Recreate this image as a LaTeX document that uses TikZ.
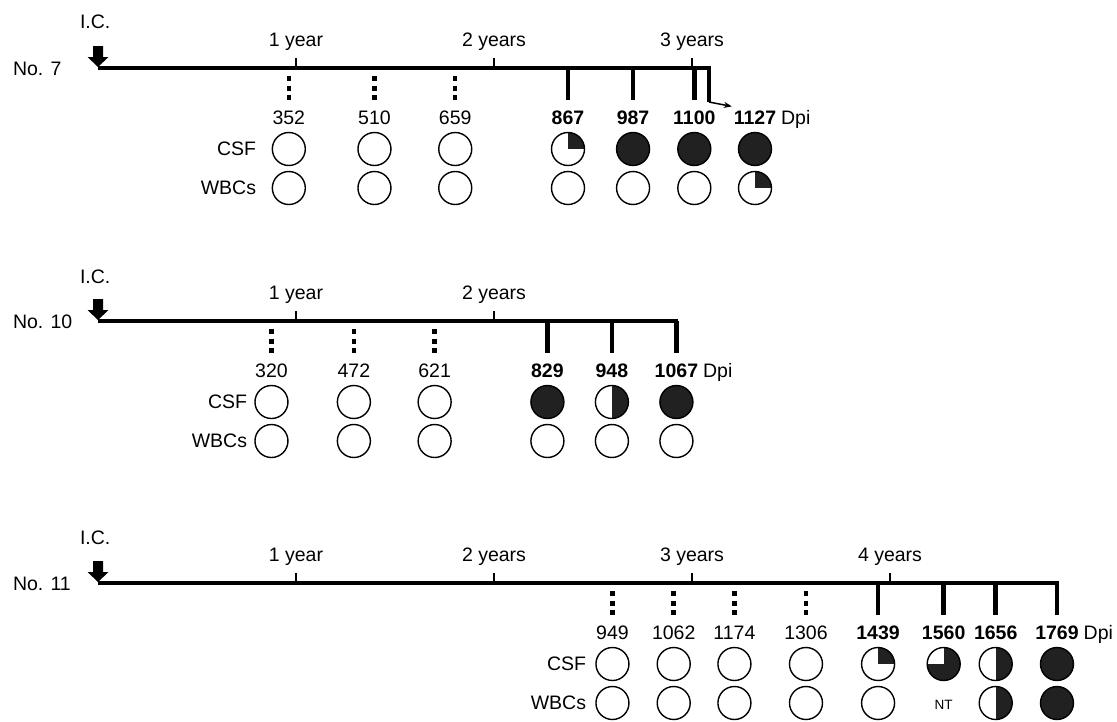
\documentclass[tikz,border=0pt]{standalone}
\usepackage{fontspec}
\setmainfont{Liberation Sans}
\usetikzlibrary{arrows.meta}
\definecolor{dk}{gray}{0.13}
\begin{document}
\begin{tikzpicture}[x=1pt,y=-1pt,
  every node/.style={inner sep=0pt,outer sep=0pt},
  txt/.style={font=\fontsize{19.5}{22}\selectfont},
  btxt/.style={font=\fontsize{19.5}{22}\selectfont\bfseries},
  smtxt/.style={font=\fontsize{13.5}{15}\selectfont},
  tline/.style={line width=4pt},
  ytick/.style={line width=2.5pt},
  solidln/.style={line width=4.5pt},
  dotln/.style={line width=4.5pt,dash pattern=on 5pt off 4.5pt},
  ring/.style={circle,draw,line width=1.4pt,minimum size=33pt},
  pieE/.style={ring},
  pieF/.style={ring,fill=dk},
  pieQ/.style={ring,path picture={\fill[dk] (path picture bounding box.center) rectangle ++(20,-20);}},
  pieH/.style={ring,path picture={\fill[dk] (path picture bounding box.center) ++(0,-20) rectangle ++(20,40);}},
  pieT/.style={ring,fill=dk,path picture={\fill[white] (path picture bounding box.center) rectangle ++(-20,-20);}},
  pieN/.style={circle,minimum size=33pt},
  icarrow/.style={fill=black}
]
\useasboundingbox (0,0) rectangle (1117,721);

% ---------------- Panel 1: No. 7
\def\T{68}
\node[txt,anchor=west] (n7) at (13,\T+1) {No. 7};
\node[txt,anchor=west] (ic1) at (80,\T-46) {I.C.};
\fill[icarrow] (98,\T-1) -- (87.5,\T-11) -- (93,\T-11) -- (93,\T-22) -- (103,\T-22) -- (103,\T-11) -- (108.5,\T-11) -- cycle;
\foreach \k/\lab in {1/1 year,2/2 years,3/3 years}{
  \coordinate (y1-\k) at ({98+198*\k},\T);
  \draw[ytick] (y1-\k) -- ++(0,-10);
  \node[txt,anchor=base] (yl1-\k) at ({98+198*\k},\T-22) {\lab};
}
\foreach \d/\ln/\o/\f/\c/\w in {352/dotln/8/txt/pieE/pieE,510/dotln/8/txt/pieE/pieE,659/dotln/8/txt/pieE/pieE,867/solidln/0/btxt/pieQ/pieE,987/solidln/0/btxt/pieF/pieE,1100/solidln/0/btxt/pieF/pieE}{
  \pgfmathsetmacro\xx{98+0.5421*\d}
  \coordinate (a1-\d) at (\xx,\T+\o);
  \coordinate (b1-\d) at (\xx,\T+32);
  \draw[\ln] (a1-\d) -- (b1-\d);
  \node[\f,anchor=base] (l1-\d) at (\xx,\T+56) {\d};
  \node[\c] (c1-\d) at (\xx,\T+81) {};
  \node[\w] (w1-\d) at (\xx,\T+120) {};
}
\node[btxt,anchor=base] (l1-1127) at (755,\T+56) {1127};
\node[pieF] (c1-1127) at (755,\T+81) {};
\node[pieQ] (w1-1127) at (755,\T+120) {};
\node[txt,anchor=base west] (dpi1) at ([xshift=5pt]l1-1127.base east) {Dpi};
\coordinate (s1) at (98,\T);
\coordinate (e1) at (708.9,\T);
\coordinate (d1) at (708.9,\T+34);
\draw[tline] (s1) -- (e1) -- (d1);
\draw[line width=1.5pt,-{Stealth[length=8pt,width=6pt]}] (d1) -- ([shift={(-2,-4)}]l1-1127.north west);
\node[txt,anchor=east] (csf1) at (256,\T+81) {CSF};
\node[txt,anchor=east] (wbc1) at (256,\T+120) {WBCs};

% ---------------- Panel 2: No. 10
\def\T{321}
\node[txt,anchor=west] (n10) at (13,\T+1) {No. 10};
\node[txt,anchor=west] (ic2) at (80,\T-44) {I.C.};
\fill[icarrow] (98,\T-1) -- (87.5,\T-11) -- (93,\T-11) -- (93,\T-22) -- (103,\T-22) -- (103,\T-11) -- (108.5,\T-11) -- cycle;
\foreach \k/\lab in {1/1 year,2/2 years}{
  \coordinate (y2-\k) at ({98+198*\k},\T);
  \draw[ytick] (y2-\k) -- ++(0,-10);
  \node[txt,anchor=base] (yl2-\k) at ({98+198*\k},\T-22) {\lab};
}
\foreach \d/\ln/\o/\f/\c/\w in {320/dotln/8/txt/pieE/pieE,472/dotln/8/txt/pieE/pieE,621/dotln/8/txt/pieE/pieE,829/solidln/0/btxt/pieF/pieE,948/solidln/0/btxt/pieH/pieE,1067/solidln/0/btxt/pieF/pieE}{
  \pgfmathsetmacro\xx{98+0.5421*\d}
  \coordinate (a2-\d) at (\xx,\T+\o);
  \coordinate (b2-\d) at (\xx,\T+32);
  \draw[\ln] (a2-\d) -- (b2-\d);
  \node[\f,anchor=base] (l2-\d) at (\xx,\T+56) {\d};
  \node[\c] (c2-\d) at (\xx,\T+81) {};
  \node[\w] (w2-\d) at (\xx,\T+120) {};
}
\node[txt,anchor=base west] (dpi2) at ([xshift=5pt]l2-1067.base east) {Dpi};
\coordinate (s2) at (98,\T);
\draw[tline] (s2) -- (a2-1067) -- (b2-1067);
\node[txt,anchor=east] (csf2) at (247,\T+81) {CSF};
\node[txt,anchor=east] (wbc2) at (247,\T+120) {WBCs};

% ---------------- Panel 3: No. 11
\def\T{583}
\node[txt,anchor=west] (n11) at (13,\T+1) {No. 11};
\node[txt,anchor=west] (ic3) at (80,\T-45) {I.C.};
\fill[icarrow] (98,\T-1) -- (87.5,\T-11) -- (93,\T-11) -- (93,\T-22) -- (103,\T-22) -- (103,\T-11) -- (108.5,\T-11) -- cycle;
\foreach \k/\lab in {1/1 year,2/2 years,3/3 years,4/4 years}{
  \coordinate (y3-\k) at ({98+198*\k},\T);
  \draw[ytick] (y3-\k) -- ++(0,-10);
  \node[txt,anchor=base] (yl3-\k) at ({98+198*\k},\T-22) {\lab};
}
\foreach \d/\ln/\o/\f/\c/\w in {949/dotln/8/txt/pieE/pieE,1062/dotln/8/txt/pieE/pieE,1174/dotln/8/txt/pieE/pieE,1306/dotln/8/txt/pieE/pieE,1439/solidln/0/btxt/pieQ/pieE,1560/solidln/0/btxt/pieT/pieN,1656/solidln/0/btxt/pieH/pieH,1769/solidln/0/btxt/pieF/pieF}{
  \pgfmathsetmacro\xx{98+0.5421*\d}
  \coordinate (a3-\d) at (\xx,\T+\o);
  \coordinate (b3-\d) at (\xx,\T+32);
  \draw[\ln] (a3-\d) -- (b3-\d);
  \node[\f,anchor=base] (l3-\d) at (\xx,\T+56) {\d};
  \node[\c] (c3-\d) at (\xx,\T+81) {};
  \node[\w] (w3-\d) at (\xx,\T+120) {};
}
\node[smtxt] (nt) at ([yshift=-2pt]w3-1560.center) {NT};
\node[txt,anchor=base west] (dpi3) at ([xshift=5pt]l3-1769.base east) {Dpi};
\coordinate (s3) at (98,\T);
\draw[tline] (s3) -- (a3-1769) -- (b3-1769);
\node[txt,anchor=east] (csf3) at (586,\T+81) {CSF};
\node[txt,anchor=east] (wbc3) at (586,\T+120) {WBCs};
\end{tikzpicture}
\end{document}
